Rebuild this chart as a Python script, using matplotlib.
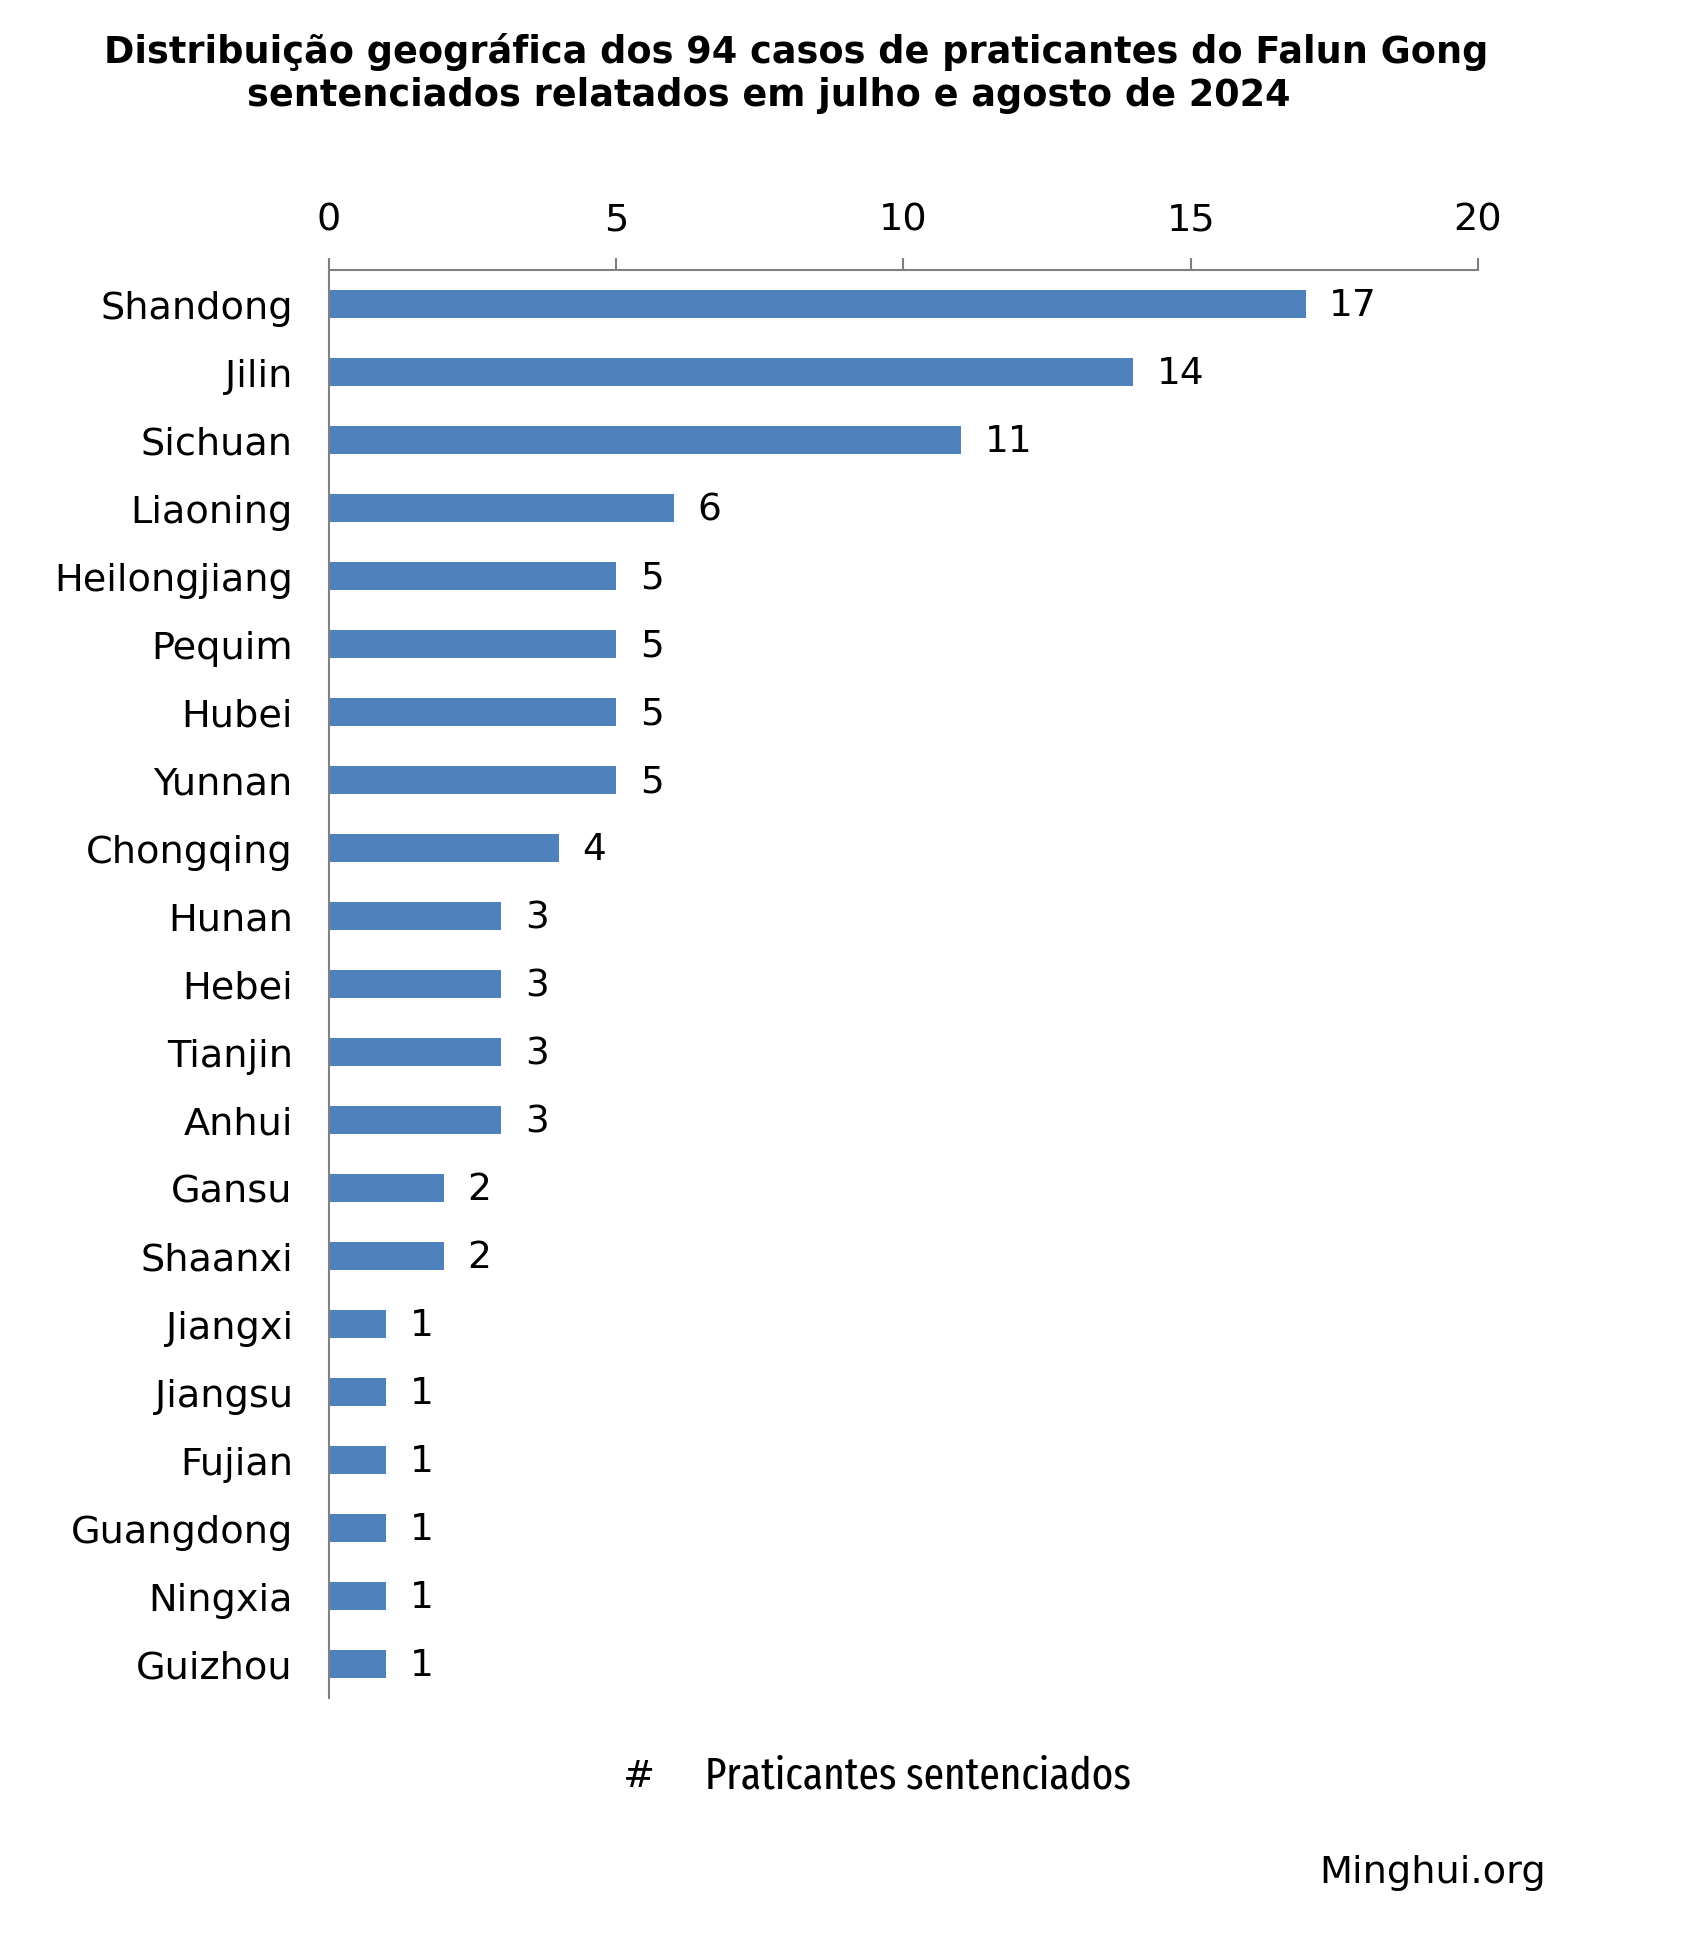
import matplotlib
matplotlib.use("Agg")
from matplotlib import pyplot as plt

provinces = ["Shandong", "Jilin", "Sichuan", "Liaoning", "Heilongjiang", "Pequim",
             "Hubei", "Yunnan", "Chongqing", "Hunan", "Hebei", "Tianjin", "Anhui",
             "Gansu", "Shaanxi", "Jiangxi", "Jiangsu", "Fujian", "Guangdong",
             "Ningxia", "Guizhou"]
cases = [17, 14, 11, 6, 5, 5, 5, 5, 4, 3, 3, 3, 3, 2, 2, 1, 1, 1, 1, 1, 1]
x_ticks = [0, 5, 10, 15, 20]

title_1 = "Distribuição geográfica dos 94 casos de praticantes do Falun Gong"
title_2 = "sentenciados relatados em julho e agosto de 2024"

BAR_COLOR = "#4F81BD"
AXIS_GRAY = "#808080"

plt.rcParams["font.family"] = ["DejaVu Sans"]

fig = plt.figure(figsize=(16.86, 19.56), dpi=100)
ax = fig.add_axes([0.1951, 0.1314, 0.6815, 0.7301])

y = list(range(len(provinces)))
ax.barh(y, cases, height=0.41, color=BAR_COLOR)
for yi, v in zip(y, cases):
    ax.annotate(str(v), (v, yi), xytext=(17, -1), textcoords="offset points",
                va="center", ha="left", fontsize=27)

ax.set_ylim(len(provinces) - 0.5, -0.5)
ax.set_xlim(0, 20)
ax.set_xticks(x_ticks)
ax.set_yticks(y)
ax.set_yticklabels(provinces, fontsize=27.5)

ax.xaxis.tick_top()
ax.tick_params(axis="x", direction="out", length=9, width=1.5, color=AXIS_GRAY,
               labelsize=27.5, pad=14)
ax.tick_params(axis="y", length=0, pad=26)

for side in ["right", "bottom"]:
    ax.spines[side].set_visible(False)
for side in ["left", "top"]:
    ax.spines[side].set_color(AXIS_GRAY)
    ax.spines[side].set_linewidth(1.5)

fig.text(0.4724, 1 - 52 / 1956, title_1, ha="center", va="center",
         fontsize=26.4, fontweight="bold")
fig.text(0.4561, 1 - 95 / 1956, title_2, ha="center", va="center",
         fontsize=26.4, fontweight="bold")

# axis title: '#' plus a narrow font for the words, as in the original
fig.text(639 / 1686, 1 - 1777 / 1956, "#", ha="center", va="center", fontsize=27.5)
fig.text(705 / 1686, 1 - 1777 / 1956, "Praticantes sentenciados", ha="left",
         va="center", fontsize=32.3,
         family=["Fira Sans Extra Condensed", "DejaVu Sans"])

fig.text(1546 / 1686, 1 - 1873 / 1956, "Minghui.org", ha="right", va="center",
         fontsize=27.5)

fig.savefig("out.png", dpi=100, facecolor="white")
